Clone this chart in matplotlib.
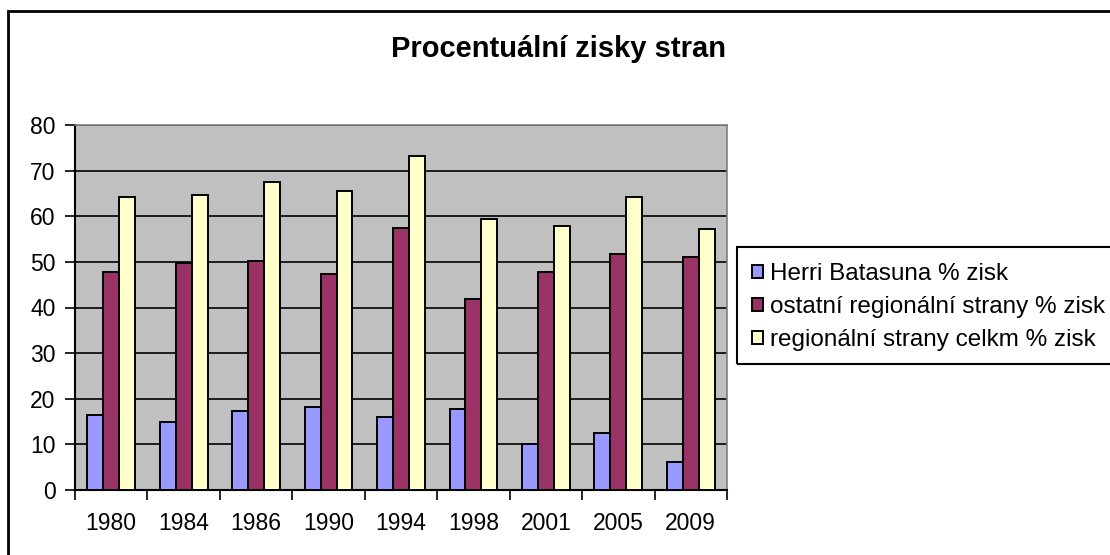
import numpy as np
import matplotlib.pyplot as plt
from matplotlib.patches import Rectangle

plt.rcParams['font.family'] = ['Liberation Sans', 'DejaVu Sans']

# Data
years = ['1980', '1984', '1986', '1990', '1994', '1998', '2001', '2005', '2009']
herri = [16.5, 14.9, 17.3, 18.1, 16.1, 17.7, 10.0, 12.4, 6.1]
ostatni = [47.8, 49.7, 50.2, 47.4, 57.4, 41.8, 47.8, 51.8, 51.1]
celkem = [64.2, 64.7, 67.5, 65.5, 73.2, 59.4, 57.8, 64.2, 57.1]
labels = ['Herri Batasuna % zisk', 'ostatní regionální strany % zisk',
          'regionální strany celkm % zisk']
colors = ['#9999FF', '#993366', '#FFFFCC']

fig = plt.figure(figsize=(11.1, 5.55), dpi=100)
fig.patch.set_facecolor('white')

# outer chart frame (cut off at right and bottom)
fig.patches.append(Rectangle((8 / 1110, -0.05), 1.2, 1 - 11 / 555 + 0.05,
                             transform=fig.transFigure, fill=False,
                             edgecolor='black', linewidth=2))

ax = fig.add_axes([75 / 1110, 1 - 490 / 555, 652 / 1110, 365 / 555])
ax.set_facecolor('#C0C0C0')

x = np.arange(len(years))
w = 0.22
bars = []
for i, (vals, c) in enumerate(zip([herri, ostatni, celkem], colors)):
    b = ax.bar(x + (i - 1) * w, vals, w, color=c, edgecolor='black',
               linewidth=1.4, zorder=3)
    bars.append(b)

ax.set_xlim(-0.5, len(years) - 0.5)
ax.set_ylim(0, 80)
ax.set_yticks(range(0, 81, 10))
ax.yaxis.grid(True, color='black', linewidth=1.2, zorder=1)
ax.set_axisbelow(True)

ax.set_xticks(x)
ax.set_xticklabels(years)
ax.set_xticks(np.arange(-0.5, len(years)), minor=True)
ax.tick_params(axis='x', which='major', length=0, pad=16, labelsize=16.5)
ax.tick_params(axis='x', which='minor', length=7, width=1.2, direction='out')
ax.tick_params(axis='y', length=7, width=1.2, direction='out', labelsize=16.5, pad=7)

for s in ['top', 'right']:
    ax.spines[s].set_color('#808080')
    ax.spines[s].set_linewidth(1.2)
for s in ['left', 'bottom']:
    ax.spines[s].set_color('black')
    ax.spines[s].set_linewidth(1.5)

fig.text(0.503, 1 - 57 / 555, 'Procentuální zisky stran', ha='center',
         va='baseline', fontsize=21, fontweight='bold')

# legend with frame running past the right edge
fig.patches.append(Rectangle((737 / 1110, 1 - 364 / 555), 0.5, 117 / 555,
                             transform=fig.transFigure, fill=False,
                             edgecolor='black', linewidth=1.5))
fig.legend(bars, labels, loc='center left',
           bbox_to_anchor=(752 / 1110, 1 - 307 / 555), frameon=False,
           fontsize=17.5, handlelength=0.45, handleheight=0.45,
           handletextpad=0.3, labelspacing=0.45, borderaxespad=0,
           borderpad=0)

fig.savefig('out.png', dpi=100)
